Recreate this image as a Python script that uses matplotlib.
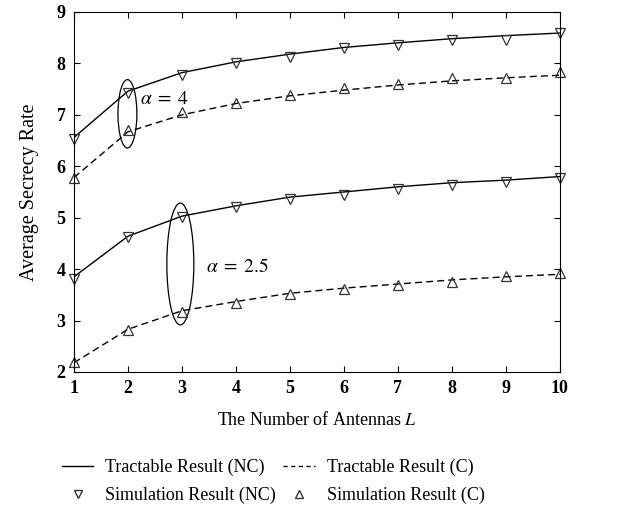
import numpy as np
import matplotlib
matplotlib.use("Agg")
import matplotlib.pyplot as plt
from matplotlib.patches import Ellipse
from matplotlib.lines import Line2D

plt.rcParams['font.family'] = ['Liberation Serif', 'DejaVu Serif']
plt.rcParams['mathtext.fontset'] = 'stix'

# -------------------------------
# data
# -------------------------------
L = [1, 2, 3, 4, 5, 6, 7, 8, 9, 10]

# alpha = 4
tract_nc_4 = [6.56, 7.46, 7.82, 8.03, 8.18, 8.31, 8.40, 8.48, 8.54, 8.59]
sim_nc_4 = [6.53, 7.42, 7.78, 8.01, 8.13, 8.29, 8.36, 8.45, 8.45, 8.60]
tract_c_4 = [5.78, 6.67, 7.00, 7.22, 7.37, 7.48, 7.58, 7.66, 7.72, 7.77]
sim_c_4 = [5.78, 6.70, 7.06, 7.23, 7.39, 7.52, 7.59, 7.72, 7.72, 7.83]

# alpha = 2.5
tract_nc_25 = [3.85, 4.64, 5.03, 5.23, 5.40, 5.50, 5.60, 5.68, 5.73, 5.80]
sim_nc_25 = [3.80, 4.62, 5.02, 5.20, 5.37, 5.45, 5.56, 5.64, 5.70, 5.78]
tract_c_25 = [2.18, 2.83, 3.19, 3.37, 3.53, 3.63, 3.71, 3.79, 3.85, 3.90]
sim_c_25 = [2.20, 2.82, 3.17, 3.34, 3.52, 3.62, 3.70, 3.75, 3.86, 3.92]

fig = plt.figure(figsize=(6.19, 5.09), dpi=100)
ax = fig.add_axes([0.1195, 0.2692, 0.785, 0.7073])

for tract, sim in [(tract_nc_4, sim_nc_4), (tract_nc_25, sim_nc_25)]:
    ax.plot(L, tract, "k-", lw=1.0)
    ax.plot(L, sim, "v", ms=7.5, mfc="none", mec="#333333", mew=0.9, clip_on=False)

for tract, sim in [(tract_c_4, sim_c_4), (tract_c_25, sim_c_25)]:
    ax.plot(L, tract, "k--", lw=1.0, dashes=(5, 3))
    ax.plot(L, sim, "^", ms=7.5, mfc="none", mec="#333333", mew=0.9, clip_on=False)

# ellipses marking the alpha groups
ax.add_patch(Ellipse((1.99, 7.02), 0.35, 1.33, fill=False, ec="k", lw=0.9))
ax.add_patch(Ellipse((2.97, 4.10), 0.50, 2.37, fill=False, ec="k", lw=0.9))
ax.text(2.22, 7.3, r"$\alpha\;=\;4$", fontsize=14, va="center")
ax.text(3.45, 4.05, r"$\alpha\;=\;2.5$", fontsize=14, va="center")

ax.set_xlim(1, 10)
ax.set_ylim(2, 9)
ax.set_xticks(L)
ax.set_yticks(range(2, 10))
ax.tick_params(direction="in", top=True, right=True, length=4, labelsize=13, pad=6)
for lab in ax.get_xticklabels() + ax.get_yticklabels():
    lab.set_fontweight("bold")

ax.set_xlabel(r"The Number of Antennas $L$", fontsize=13, labelpad=10)
ax.set_ylabel("Average Secrecy Rate", fontsize=14.5, labelpad=13)

handles = [
    Line2D([], [], color="k", lw=1.0),
    Line2D([], [], ls="none", marker="v", ms=6, mfc="none", mec="#333333"),
    Line2D([], [], color="k", lw=1.0, ls="--", dashes=(3, 2.5)),
    Line2D([], [], ls="none", marker="^", ms=6, mfc="none", mec="#333333"),
]
labels = ["Tractable Result (NC)", "Simulation Result (NC)",
          "Tractable Result (C)", "Simulation Result (C)"]
fig.legend(handles, labels, ncol=2, loc="center left", bbox_to_anchor=(0.1, 0.054),
           frameon=False, fontsize=13, handlelength=1.75, handletextpad=0.65,
           columnspacing=0.4, labelspacing=0.62, borderpad=0, borderaxespad=0)

plt.savefig("out.png", dpi=100)
